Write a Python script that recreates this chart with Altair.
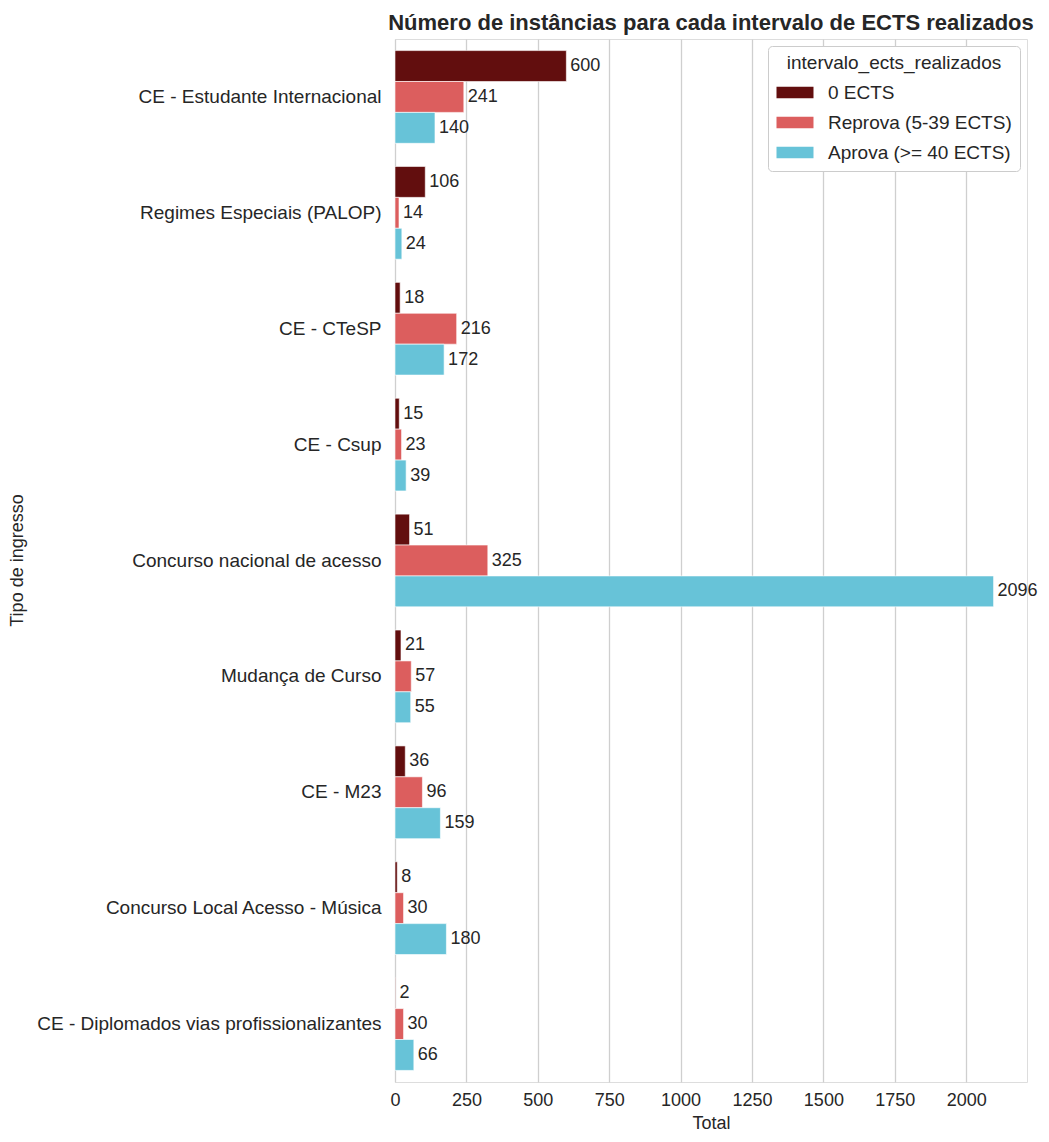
import altair as alt
import pandas as pd

categories = [
    "CE - Estudante Internacional",
    "Regimes Especiais (PALOP)",
    "CE - CTeSP",
    "CE - Csup",
    "Concurso nacional de acesso",
    "Mudança de Curso",
    "CE - M23",
    "Concurso Local Acesso - Música",
    "CE - Diplomados vias profissionalizantes",
]
series = ["0 ECTS", "Reprova (5-39 ECTS)", "Aprova (>= 40 ECTS)"]
zero_ects = [600, 106, 18, 15, 51, 21, 36, 8, 2]
reprova = [241, 14, 216, 23, 325, 57, 96, 30, 30]
aprova = [140, 24, 172, 39, 2096, 55, 159, 180, 66]
colors = ["#620e0e", "#dc5e5e", "#67c3d8"]

rows = []
for i, c in enumerate(categories):
    for s, vals in zip(series, [zero_ects, reprova, aprova]):
        rows.append({"tipo": c, "serie": s, "total": vals[i]})
df = pd.DataFrame(rows)

FONT = "Liberation Sans"
FS = 18

y_enc = alt.Y("tipo:N", sort=categories, title="Tipo de ingresso",
              scale=alt.Scale(paddingInner=0.2, paddingOuter=0.1),
              axis=alt.Axis(grid=False, ticks=False, domain=False, labelFontSize=19,
                            labelColor="#262626", labelPadding=14, titleFontSize=FS,
                            titleFontWeight="normal", titleColor="#262626", labelFont=FONT,
                            titleFont=FONT, titleX=-369, titleY=521, titleAngle=-90,
                            titleBaseline="bottom", labelLimit=600))
yoff = alt.YOffset("serie:N", sort=series, scale=alt.Scale(paddingInner=0, paddingOuter=0))
x_enc = alt.X("total:Q", title="Total",
              scale=alt.Scale(domain=[0, 2213], nice=False, zero=True),
              axis=alt.Axis(values=list(range(0, 2001, 250)), format="d", grid=True,
                            gridColor="#cfcfcf", gridWidth=1.3, ticks=False, domain=False,
                            labelFontSize=FS, labelColor="#262626", labelPadding=9,
                            titleFontSize=FS, titleFontWeight="normal", titleColor="#262626",
                            labelFont=FONT, titleFont=FONT, titlePadding=5, labelFlush=False))

bars = alt.Chart(df).mark_bar(stroke="white", strokeWidth=0.6).encode(
    y=y_enc,
    yOffset=yoff,
    x=x_enc,
    color=alt.Color("serie:N", sort=series,
                    scale=alt.Scale(domain=series, range=colors),
                    legend=alt.Legend(title="intervalo_ects_realizados", orient="top-right",
                                      offset=7, padding=8, strokeColor="#cccccc",
                                      fillColor="white", cornerRadius=4,
                                      titleFontSize=19, titleFontWeight="normal",
                                      titleColor="#262626", labelFontSize=19,
                                      labelColor="#262626", titleFont=FONT, labelFont=FONT,
                                      titleLimit=1000, labelLimit=1000,
                                      symbolType="M-1,-0.65L3.11,-0.65L3.11,0.65L-1,0.65Z",
                                      symbolSize=324, symbolStrokeWidth=0,
                                      rowPadding=10, labelOffset=33, titlePadding=10,
                                      titleAlign="center", titleAnchor="middle")),
)

labels = alt.Chart(df).mark_text(align="left", baseline="middle", dx=4, fontSize=FS,
                                 font=FONT, color="#262626").encode(
    y=alt.Y("tipo:N", sort=categories),
    yOffset=yoff,
    x=alt.X("total:Q"),
    text=alt.Text("total:Q"),
)

chart = (bars + labels).properties(
    width=632, height=1043,
    padding={"top": 4, "left": 0, "right": 0, "bottom": 0},
    title=alt.TitleParams("Número de instâncias para cada intervalo de ECTS realizados",
                          fontSize=22, fontWeight="bold", font=FONT, color="#262626",
                          anchor="middle", offset=4),
).configure_view(stroke="#cccccc", strokeWidth=1.2).configure(background="white")

chart.save("out.html", embed_options={"renderer": "svg", "actions": False})
